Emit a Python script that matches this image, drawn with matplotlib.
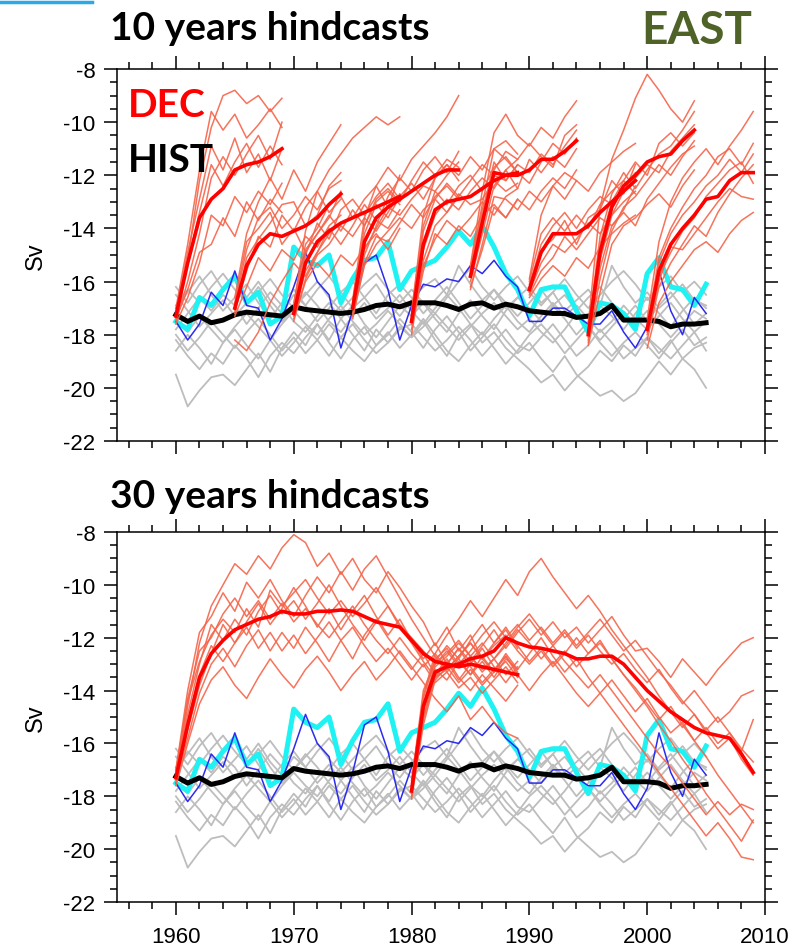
import numpy as np
import matplotlib
matplotlib.use("Agg")
import matplotlib.pyplot as plt
from matplotlib.ticker import MultipleLocator
from matplotlib.lines import Line2D

plt.rcParams["axes.unicode_minus"] = False
plt.rcParams["font.family"] = ["Liberation Sans", "DejaVu Sans"]

# ---------------- historical runs and observations (1960-2005) ----------------
hist_years = list(range(1960, 2006))

hist_mean = [-17.25, -17.5, -17.3, -17.55, -17.45, -17.25, -17.15, -17.2, -17.25, -17.3,
             -16.95, -17.05, -17.1, -17.15, -17.2, -17.15, -17.05, -16.9, -16.85, -16.95,
             -16.8, -16.8, -16.8, -16.9, -17.05, -16.85, -16.8, -17.0, -16.85, -16.95,
             -17.1, -17.15, -17.2, -17.2, -17.35, -17.3, -17.2, -16.9, -17.45, -17.45,
             -17.45, -17.5, -17.7, -17.6, -17.6, -17.55]

obs_cyan = [-17.5, -17.8, -16.6, -16.9, -16.3, -15.8, -16.8, -16.4, -17.6, -17.3,
            -14.7, -15.2, -15.4, -15.0, -16.8, -15.9, -15.2, -15.1, -14.5, -16.3,
            -15.6, -15.4, -15.2, -14.7, -14.1, -14.6, -13.9, -14.7, -15.7, -16.3,
            -17.3, -16.3, -16.2, -16.2, -17.1, -17.9, -16.8, -16.9, -17.2, -17.8,
            -15.7, -15.1, -16.2, -16.3, -16.9, -16.1]

obs_blue = [-17.5, -18.2, -17.6, -16.4, -16.9, -15.6, -16.9, -17.0, -18.2, -17.4,
            -16.2, -14.9, -16.0, -16.5, -18.5, -17.1, -15.3, -15.0, -16.3, -18.2,
            -16.9, -16.1, -16.2, -15.9, -16.0, -15.4, -15.7, -15.2, -15.8, -16.2,
            -17.5, -17.5, -17.0, -17.0, -17.3, -17.6, -17.6, -17.1, -17.9, -18.5,
            -17.7, -15.6, -17.1, -18.0, -16.6, -17.2]

hist_m1 = [-19.5, -20.7, -20.1, -19.6, -19.5, -19.9, -19.3, -18.7, -19.4, -18.5,
           -17.9, -18.4, -17.6, -18.2, -17.4, -18.0, -18.6, -17.8, -18.3, -17.7,
           -18.1, -17.5, -18.2, -18.8, -18.0, -17.6, -18.3, -17.9, -18.5, -18.9,
           -19.3, -19.8, -19.5, -20.1, -19.6, -19.2, -18.6, -19.0, -18.4, -18.8,
           -18.1, -18.7, -18.2, -18.9, -18.5, -18.3]
hist_m2 = [-18.2, -18.8, -19.3, -18.7, -19.1, -18.4, -18.9, -19.6, -18.8, -18.3,
           -18.7, -18.1, -17.6, -18.3, -18.9, -18.2, -17.7, -18.4, -18.0, -17.4,
           -17.9, -18.5, -17.8, -17.3, -17.9, -18.6, -18.1, -17.6, -18.2, -18.7,
           -18.3, -18.9, -19.4, -18.8, -19.5, -19.9, -20.3, -20.1, -20.5, -20.2,
           -19.6, -19.0, -19.5, -18.9, -19.3, -20.0]
hist_m3 = [-16.2, -16.8, -16.1, -15.6, -16.3, -15.9, -16.6, -16.0, -16.7, -17.2,
           -16.5, -16.9, -16.3, -15.8, -16.4, -17.0, -16.6, -16.1, -16.8, -17.3,
           -16.7, -16.2, -15.9, -16.5, -15.4, -16.1, -16.7, -16.3, -17.0, -16.6,
           -16.2, -16.8, -16.4, -17.1, -16.7, -16.3, -16.9, -15.4, -16.2, -16.8,
           -16.4, -17.0, -16.6, -16.1, -16.7, -16.9]
hist_m4 = [-17.8, -17.2, -16.6, -17.1, -16.5, -16.9, -17.6, -17.0, -16.4, -16.9,
           -17.5, -17.9, -17.3, -16.8, -17.4, -16.9, -17.6, -18.1, -17.5, -16.9,
           -17.3, -16.8, -17.4, -17.9, -17.2, -16.7, -17.3, -17.8, -17.1, -16.6,
           -17.0, -17.5, -16.9, -17.4, -18.0, -17.5, -16.9, -17.3, -17.8, -17.2,
           -16.6, -17.2, -17.7, -17.1, -16.6, -17.0]
hist_m5 = [-17.0, -16.4, -15.8, -16.5, -17.1, -16.6, -16.1, -16.8, -17.4, -16.8,
           -16.3, -16.9, -17.5, -17.0, -16.4, -16.0, -16.6, -17.2, -16.5, -16.1,
           -16.6, -17.2, -16.7, -16.2, -16.8, -17.4, -16.9, -16.3, -16.8, -17.3,
           -16.8, -16.3, -16.9, -16.5, -17.1, -16.6, -16.2, -16.8, -17.4, -16.9,
           -17.5, -16.9, -16.4, -17.0, -17.6, -17.2]
hist_m6 = [-18.6, -18.0, -18.5, -19.1, -18.3, -17.8, -18.4, -18.9, -18.2, -18.8,
           -18.3, -17.7, -18.2, -18.8, -18.1, -18.6, -19.0, -18.4, -17.9, -18.5,
           -18.0, -17.4, -18.0, -18.6, -19.0, -18.4, -17.9, -18.5, -19.1, -18.6,
           -18.0, -17.6, -18.1, -18.7, -18.2, -17.7, -18.3, -18.8, -18.3, -17.9,
           -18.4, -18.9, -18.3, -17.8, -18.4, -18.1]
hist_m7 = [-16.5, -17.1, -17.7, -17.2, -16.7, -17.3, -16.8, -16.2, -16.9, -17.5,
           -17.0, -16.4, -16.9, -17.5, -17.9, -17.3, -16.8, -17.4, -17.0, -16.5,
           -17.1, -17.6, -17.0, -16.5, -17.0, -17.6, -18.0, -17.4, -16.9, -17.5,
           -17.9, -17.3, -16.8, -17.3, -16.9, -17.4, -17.9, -17.5, -16.9, -17.4,
           -17.8, -17.3, -16.8, -17.4, -17.9, -17.5]
hist_m8 = [-18.0, -18.6, -18.1, -17.5, -18.0, -18.5, -17.9, -17.4, -18.0, -18.6,
           -18.1, -18.7, -18.2, -17.6, -18.1, -17.6, -18.2, -18.7, -18.3, -17.8,
           -17.6, -18.1, -18.6, -18.2, -17.7, -18.2, -18.8, -18.3, -17.8, -18.4,
           -18.6, -18.1, -17.6, -18.2, -18.8, -18.4, -17.8, -18.3, -18.9, -18.5,
           -18.1, -18.5, -18.9, -18.4, -17.9, -18.6]
hist_m9 = [-16.9, -16.3, -16.8, -16.2, -15.7, -16.3, -16.8, -16.4, -15.9, -16.5,
           -17.0, -16.5, -16.0, -16.6, -17.1, -16.6, -16.1, -15.7, -16.3, -16.8,
           -16.3, -16.8, -17.2, -16.6, -16.0, -15.5, -16.2, -16.7, -16.2, -15.8,
           -16.4, -16.9, -16.4, -15.9, -16.5, -17.0, -16.5, -16.0, -15.6, -16.1,
           -16.7, -16.2, -15.8, -16.4, -16.0, -16.5]
hist_m10 = [-17.5, -17.9, -17.3, -17.8, -18.3, -17.7, -17.2, -17.7, -18.2, -17.6,
            -17.1, -17.6, -18.0, -17.4, -16.9, -17.5, -18.0, -17.6, -17.1, -17.6,
            -18.1, -17.7, -17.2, -17.7, -18.2, -17.7, -17.2, -16.8, -17.3, -17.8,
            -17.4, -17.9, -18.3, -17.8, -17.2, -17.7, -18.2, -17.7, -17.2, -17.6,
            -17.1, -17.6, -18.1, -17.6, -17.1, -17.4]
hist_members = [hist_m1, hist_m2, hist_m3, hist_m4, hist_m5,
                hist_m6, hist_m7, hist_m8, hist_m9, hist_m10]

# ---------------- 10-year hindcasts (one start every 5 years) ----------------
dec10_starts = [1960, 1965, 1970, 1975, 1980, 1985, 1990, 1995, 2000]

dec10_1960_mean = [-17.3, -15.3, -13.6, -12.9, -12.5, -11.8, -11.6, -11.5, -11.3, -11.0]
dec10_1960_members = [
    [-17.3, -15.2, -12.2, -10.2, -9.0, -8.8, -9.3, -9.0, -9.6, -9.1],
    [-17.0, -14.6, -11.8, -9.6, -10.3, -9.7, -10.6, -10.1, -9.5, -10.2],
    [-17.5, -16.0, -14.2, -12.1, -11.3, -12.0, -11.2, -10.5, -11.4, -10.0],
    [-17.6, -16.6, -15.3, -13.5, -13.9, -12.8, -13.4, -12.6, -13.1, -12.3],
    [-17.2, -15.3, -13.4, -11.6, -12.4, -11.5, -10.8, -11.7, -10.9, -11.6],
    [-17.4, -16.3, -14.9, -14.6, -13.6, -14.3, -13.0, -13.7, -12.9, -13.4],
    [-17.1, -14.9, -12.9, -10.9, -11.8, -10.6, -11.9, -11.2, -12.2, -11.0],
]
dec10_1965_mean = [-17.0, -15.4, -14.6, -14.2, -14.3, -14.1, -13.9, -13.6, -13.1, -12.7]
dec10_1965_members = [
    [-16.6, -14.2, -13.0, -12.1, -12.9, -11.8, -12.6, -11.5, -10.8, -10.1],
    [-17.3, -16.2, -15.1, -15.6, -14.8, -15.2, -14.3, -14.7, -13.9, -13.5],
    [-18.2, -18.6, -17.9, -16.8, -16.0, -15.3, -15.8, -14.9, -14.2, -13.8],
    [-16.9, -14.8, -13.6, -13.2, -14.0, -13.5, -12.8, -13.3, -12.5, -12.2],
    [-17.1, -15.6, -14.3, -14.7, -13.5, -14.1, -13.2, -12.6, -13.4, -12.9],
    [-16.8, -14.5, -14.0, -13.4, -14.6, -14.0, -14.9, -14.2, -13.6, -12.6],
    [-17.2, -15.1, -14.4, -13.8, -13.1, -13.0, -13.9, -13.5, -12.4, -11.9],
]
dec10_1970_mean = [-17.2, -15.3, -14.5, -14.1, -13.8, -13.6, -13.4, -13.2, -13.0, -12.8]
dec10_1970_members = [
    [-16.9, -14.1, -12.6, -11.8, -11.2, -10.6, -10.2, -9.8, -10.1, -9.8],
    [-17.4, -16.0, -15.3, -15.8, -15.0, -15.4, -14.7, -14.2, -14.8, -14.0],
    [-17.0, -14.8, -14.2, -13.5, -14.1, -13.3, -13.9, -13.0, -12.6, -13.1],
    [-17.5, -15.9, -15.0, -14.6, -13.9, -14.3, -13.6, -14.1, -13.4, -12.7],
    [-17.1, -15.0, -13.8, -14.4, -13.3, -12.9, -13.5, -12.8, -12.3, -12.9],
    [-17.3, -15.6, -14.9, -14.0, -14.6, -13.9, -13.1, -13.7, -14.0, -13.3],
    [-16.8, -14.6, -14.0, -13.1, -12.8, -13.6, -12.9, -12.4, -13.2, -12.0],
]
dec10_1975_mean = [-17.0, -14.5, -13.6, -13.2, -12.9, -12.6, -12.3, -12.0, -11.8, -11.8]
dec10_1975_members = [
    [-16.7, -13.6, -12.4, -11.7, -12.2, -11.4, -10.9, -10.4, -9.8, -9.0],
    [-17.3, -15.4, -14.6, -14.1, -13.6, -14.0, -13.3, -12.9, -13.4, -12.8],
    [-17.0, -14.2, -13.1, -13.6, -12.8, -12.3, -12.9, -12.1, -11.6, -12.2],
    [-16.9, -14.8, -14.0, -13.2, -13.5, -12.9, -12.4, -12.6, -12.0, -11.5],
    [-17.2, -15.0, -13.9, -12.8, -12.1, -12.6, -11.8, -11.3, -11.9, -11.1],
    [-17.4, -15.3, -14.3, -14.5, -13.8, -13.1, -13.6, -12.8, -12.4, -12.9],
    [-16.8, -13.9, -12.9, -12.5, -13.0, -12.2, -11.5, -12.0, -11.4, -11.7],
]
dec10_1980_mean = [-17.5, -14.6, -13.3, -13.0, -12.9, -12.8, -12.5, -12.2, -12.0, -11.9]
dec10_1980_members = [
    [-17.2, -13.5, -12.1, -11.6, -12.0, -11.3, -11.8, -11.0, -10.7, -11.2],
    [-17.8, -15.6, -14.2, -14.6, -13.9, -14.3, -13.5, -13.1, -13.6, -12.9],
    [-17.4, -14.8, -13.5, -12.9, -13.3, -12.6, -12.1, -12.5, -11.8, -11.4],
    [-18.0, -15.2, -13.9, -13.4, -12.7, -13.1, -12.9, -12.2, -12.6, -12.3],
    [-17.1, -13.9, -12.6, -13.1, -12.4, -12.0, -12.6, -11.7, -11.3, -11.9],
    [-17.6, -15.4, -14.4, -13.7, -14.1, -13.6, -13.0, -13.5, -12.8, -12.5],
    [-17.3, -14.1, -12.9, -12.3, -12.8, -12.2, -11.6, -12.0, -12.2, -11.6],
]
dec10_1985_mean = [-15.8, -13.8, -11.9, -12.0, -12.0, -11.8, -11.4, -11.4, -11.1, -10.7]
dec10_1985_members = [
    [-15.4, -12.6, -10.4, -9.7, -10.5, -10.9, -10.2, -10.6, -9.8, -9.2],
    [-16.2, -14.8, -13.2, -13.6, -12.9, -13.3, -12.6, -12.1, -12.5, -11.8],
    [-15.7, -13.5, -11.5, -12.2, -11.6, -11.9, -11.2, -11.6, -10.9, -10.3],
    [-16.0, -14.2, -12.4, -11.8, -12.5, -11.4, -11.9, -11.3, -11.7, -11.0],
    [-15.5, -13.1, -11.0, -11.4, -11.9, -12.3, -11.5, -10.8, -11.2, -10.6],
    [-16.3, -14.6, -12.8, -12.9, -13.3, -12.6, -13.0, -12.4, -11.9, -12.2],
    [-15.6, -13.3, -11.8, -11.1, -11.4, -10.8, -11.3, -11.7, -10.5, -10.1],
]
dec10_1990_mean = [-16.3, -14.9, -14.2, -14.2, -14.2, -13.9, -13.4, -13.0, -12.6, -12.2]
dec10_1990_members = [
    [-15.9, -13.5, -12.4, -12.9, -12.2, -12.6, -11.9, -11.5, -11.1, -10.8],
    [-16.6, -15.9, -15.4, -15.8, -15.1, -15.5, -14.7, -14.2, -13.8, -13.5],
    [-16.2, -14.6, -13.9, -13.4, -14.0, -13.3, -12.8, -13.1, -12.4, -11.9],
    [-16.4, -15.3, -14.6, -14.9, -14.4, -13.8, -14.2, -13.5, -13.0, -12.6],
    [-16.0, -14.2, -13.6, -14.1, -13.5, -14.0, -13.1, -12.6, -12.2, -12.7],
    [-16.5, -15.6, -15.1, -14.3, -14.8, -14.2, -13.6, -13.9, -13.3, -12.4],
    [-16.1, -14.8, -14.4, -13.7, -14.6, -13.6, -13.3, -12.2, -12.7, -11.6],
]
dec10_1995_mean = [-18.0, -14.9, -13.2, -12.4, -12.0, -11.5, -11.3, -11.2, -10.7, -10.3]
dec10_1995_members = [
    [-17.6, -13.2, -11.4, -10.3, -9.1, -8.2, -8.8, -9.5, -10.0, -9.2],
    [-18.4, -16.4, -14.6, -13.9, -13.6, -13.1, -12.7, -13.2, -12.4, -11.8],
    [-18.1, -15.2, -13.5, -12.6, -12.1, -11.6, -11.9, -11.1, -10.6, -10.1],
    [-17.8, -14.3, -12.7, -11.9, -12.5, -11.8, -11.2, -10.9, -10.3, -9.6],
    [-18.3, -15.9, -14.1, -13.2, -12.8, -12.2, -11.6, -12.0, -11.3, -10.7],
    [-17.9, -14.6, -13.0, -12.2, -11.5, -12.0, -10.8, -10.4, -10.9, -10.4],
    [-18.2, -15.5, -13.9, -13.4, -13.9, -12.9, -12.3, -11.7, -11.2, -10.9],
]
dec10_2000_mean = [-17.8, -15.6, -14.6, -14.0, -13.5, -12.9, -12.8, -12.2, -11.9, -11.9]
dec10_2000_members = [
    [-17.4, -14.5, -13.0, -12.1, -11.5, -11.0, -11.6, -10.9, -10.3, -9.6],
    [-18.5, -16.8, -16.0, -15.4, -14.8, -14.5, -14.9, -14.2, -13.7, -13.4],
    [-17.9, -15.3, -14.2, -13.5, -13.0, -12.4, -12.0, -11.4, -11.9, -11.2],
    [-17.6, -15.8, -14.9, -14.1, -13.6, -12.8, -12.3, -11.8, -11.5, -12.3],
    [-18.2, -16.2, -15.3, -14.6, -13.9, -14.3, -13.4, -12.7, -12.1, -11.6],
    [-17.7, -15.1, -14.0, -13.2, -12.5, -12.0, -11.3, -11.0, -11.6, -10.8],
    [-18.0, -16.0, -14.7, -14.8, -14.2, -13.6, -13.0, -12.5, -12.8, -12.9],
]
dec10_means = [dec10_1960_mean, dec10_1965_mean, dec10_1970_mean, dec10_1975_mean,
               dec10_1980_mean, dec10_1985_mean, dec10_1990_mean, dec10_1995_mean,
               dec10_2000_mean]
dec10_members = [dec10_1960_members, dec10_1965_members, dec10_1970_members,
                 dec10_1975_members, dec10_1980_members, dec10_1985_members,
                 dec10_1990_members, dec10_1995_members, dec10_2000_members]

# ---------------- 30-year hindcasts ----------------
dec30_starts = [1960, 1980]

dec30_1960_mean = [-17.3, -15.3, -13.5, -12.6, -12.1, -11.7, -11.5, -11.3, -11.2, -11.0,
                   -11.1, -11.1, -11.0, -11.0, -10.95, -11.0, -11.2, -11.4, -11.5, -11.6,
                   -12.1, -12.6, -12.9, -13.0, -13.1, -13.0, -13.1, -13.2, -13.3, -13.4]
dec30_1960_members = [
    [-17.3, -14.6, -12.2, -10.8, -10.0, -9.2, -9.6, -8.9, -9.4, -8.6,
     -8.1, -8.4, -9.3, -8.8, -9.6, -9.0, -9.8, -10.3, -9.5, -10.1,
     -10.8, -11.4, -12.3, -11.6, -12.5, -11.9, -12.8, -12.2, -11.7, -12.4],
    [-17.0, -14.0, -11.8, -11.2, -10.3, -11.0, -9.9, -10.5, -9.8, -10.6,
     -11.2, -10.4, -9.7, -10.3, -9.5, -10.2, -9.4, -8.9, -9.7, -10.5,
     -11.3, -12.0, -12.7, -13.3, -12.8, -13.4, -12.9, -13.5, -12.8, -13.2],
    [-17.5, -15.5, -13.8, -12.6, -11.5, -12.2, -11.4, -10.7, -11.5, -10.9,
     -10.1, -10.8, -11.6, -10.9, -11.7, -11.0, -10.4, -11.2, -11.9, -11.3,
     -12.1, -12.8, -12.2, -13.0, -12.4, -13.1, -13.7, -13.2, -12.7, -13.3],
    [-17.4, -15.8, -14.1, -13.0, -12.4, -13.1, -12.3, -11.7, -12.5, -11.8,
     -12.4, -11.6, -12.2, -12.9, -12.1, -12.8, -11.9, -11.3, -12.0, -12.6,
     -13.2, -12.6, -13.4, -12.8, -13.5, -14.0, -13.4, -13.9, -14.4, -13.8],
    [-17.2, -14.9, -13.0, -11.5, -12.1, -11.3, -11.9, -11.0, -10.4, -11.1,
     -10.6, -11.3, -10.7, -10.0, -10.8, -11.5, -12.1, -11.4, -10.8, -11.6,
     -12.2, -12.9, -13.5, -12.9, -13.6, -13.0, -12.4, -13.1, -13.7, -13.1],
    [-17.6, -16.0, -14.5, -13.6, -13.1, -13.8, -14.3, -13.5, -12.8, -13.4,
     -13.9, -13.2, -12.7, -13.3, -14.0, -13.4, -12.9, -13.6, -13.1, -12.5,
     -13.1, -13.7, -14.3, -14.8, -14.2, -15.1, -14.6, -15.2, -15.6, -15.8],
    [-17.1, -14.3, -12.5, -12.0, -11.1, -10.5, -11.2, -10.6, -11.3, -10.7,
     -11.4, -10.9, -11.5, -12.0, -11.4, -10.8, -11.5, -12.1, -12.6, -12.0,
     -12.6, -13.1, -12.6, -13.2, -12.7, -12.2, -12.8, -13.3, -12.9, -13.5],
    [-17.3, -15.2, -13.4, -12.3, -12.9, -12.2, -11.6, -12.4, -11.8, -12.5,
     -11.9, -12.6, -12.0, -11.4, -12.1, -11.6, -12.3, -12.9, -12.4, -13.0,
     -13.6, -13.0, -13.7, -13.3, -13.9, -13.5, -14.1, -13.6, -13.1, -13.7],
    [-17.0, -14.4, -12.9, -11.9, -11.3, -11.8, -10.9, -11.6, -10.2, -10.8,
     -10.3, -9.8, -10.5, -11.1, -10.6, -11.2, -10.7, -10.1, -10.8, -11.5,
     -12.0, -12.5, -13.0, -12.5, -13.1, -12.7, -13.2, -12.8, -13.4, -12.9],
]

dec30_1980_mean = [-17.8, -14.6, -13.3, -13.1, -13.0, -12.8, -12.7, -12.5, -12.0, -12.2,
                   -12.35, -12.4, -12.5, -12.6, -12.8, -12.8, -12.7, -12.7, -13.0, -13.5,
                   -14.0, -14.4, -14.8, -15.1, -15.4, -15.6, -15.7, -15.8, -16.4, -17.1]
dec30_1980_members = [
    [-17.6, -14.2, -12.6, -11.9, -11.3, -10.6, -11.2, -10.5, -9.8, -10.4,
     -9.5, -9.0, -9.7, -10.3, -10.9, -10.4, -11.0, -11.7, -12.3, -12.9,
     -13.5, -14.2, -14.8, -15.4, -14.9, -15.6, -16.2, -15.8, -16.6, -17.2],
    [-18.0, -15.0, -13.4, -13.0, -12.4, -12.9, -12.3, -11.7, -12.4, -11.8,
     -11.3, -11.9, -11.4, -12.0, -11.6, -12.2, -11.7, -11.2, -11.9, -12.5,
     -12.4, -12.9, -13.5, -12.8, -13.3, -13.8, -13.2, -12.7, -12.2, -12.0],
    [-17.8, -14.8, -13.2, -13.6, -12.9, -13.4, -12.7, -13.3, -12.6, -13.2,
     -12.6, -12.0, -12.7, -13.3, -12.8, -13.5, -14.1, -13.6, -14.2, -14.8,
     -14.3, -15.0, -15.6, -15.2, -15.9, -16.5, -17.2, -17.8, -18.4, -19.0],
    [-17.5, -14.0, -12.9, -12.3, -12.8, -12.1, -11.5, -12.2, -11.6, -12.3,
     -12.9, -12.4, -13.0, -12.5, -13.1, -12.6, -12.1, -12.8, -13.4, -13.9,
     -14.5, -15.1, -14.6, -15.3, -15.9, -15.4, -16.0, -15.6, -16.3, -15.1],
    [-18.1, -15.3, -13.6, -13.1, -13.7, -13.2, -13.8, -13.3, -12.7, -13.4,
     -14.0, -13.4, -12.9, -13.5, -14.1, -14.6, -14.1, -14.7, -15.3, -15.9,
     -16.5, -17.1, -17.7, -18.3, -18.9, -19.5, -19.0, -19.6, -20.3, -20.4],
    [-17.7, -14.5, -13.0, -12.6, -12.1, -12.7, -12.2, -12.8, -12.3, -11.7,
     -12.2, -12.8, -12.3, -11.8, -12.4, -11.9, -12.5, -13.0, -12.6, -13.2,
     -13.7, -13.2, -13.9, -14.5, -14.0, -14.6, -15.2, -14.8, -14.2, -14.0],
    [-17.9, -15.1, -13.5, -13.2, -12.7, -12.2, -12.8, -12.3, -11.9, -12.5,
     -13.0, -12.5, -13.1, -12.6, -12.0, -12.6, -12.2, -12.8, -13.4, -14.0,
     -14.6, -15.3, -15.9, -16.6, -17.2, -17.9, -18.5, -19.1, -19.7, -18.9],
    [-17.4, -14.3, -12.8, -12.4, -13.0, -12.5, -11.9, -11.4, -12.0, -11.5,
     -12.1, -11.6, -12.2, -11.7, -12.3, -11.8, -11.3, -11.9, -12.5, -12.1,
     -12.7, -13.3, -13.8, -14.4, -14.9, -15.5, -15.0, -15.6, -16.2, -16.7],
    [-17.6, -14.6, -13.1, -12.7, -12.2, -12.7, -13.3, -12.8, -12.2, -11.6,
     -11.1, -11.7, -12.3, -12.9, -13.4, -13.9, -13.4, -14.0, -14.6, -15.2,
     -15.8, -16.4, -16.9, -17.5, -18.1, -18.7, -18.2, -18.7, -18.3, -18.5],
]
dec30_means = [dec30_1960_mean, dec30_1980_mean]
dec30_members = [dec30_1960_members, dec30_1980_members]

# ---------------- styling ----------------
C_MEMBER = "#f5644a"
C_MEAN = "#ff0000"
C_HIST = "#bdbdbd"
C_CYAN = "#1ff2f2"
C_BLUE = "#2b2bf0"

W, H = 794, 953
fig = plt.figure(figsize=(W / 100, H / 100), dpi=100)


def px_axes(left, top, right, bottom):
    return fig.add_axes([left / W, 1 - bottom / H, (right - left) / W, (bottom - top) / H])


def draw_common(ax):
    for m in hist_members:
        ax.plot(hist_years, m, color=C_HIST, lw=1.3, zorder=2, solid_joinstyle="round")
    ax.plot(hist_years, obs_cyan, color=C_CYAN, lw=3.6, zorder=3, solid_joinstyle="round")
    ax.plot(hist_years, obs_blue, color=C_BLUE, lw=1.1, zorder=4)
    ax.plot(hist_years, hist_mean, color="black", lw=3.6, zorder=5, solid_joinstyle="round")


def draw_hindcasts(ax, starts, means, members):
    for s, mean, mems in zip(starts, means, members):
        yrs = list(range(s, s + len(mean)))
        for m in mems:
            ax.plot(yrs, m, color=C_MEMBER, lw=1.1, alpha=0.9, zorder=6)
        ax.plot(yrs, mean, color=C_MEAN, lw=2.6, zorder=7, solid_joinstyle="round")


def style_axes(ax, xlabels):
    ax.set_xlim(1955, 2010)
    ax.set_ylim(-22, -8)
    ax.xaxis.set_major_locator(MultipleLocator(10))
    ax.xaxis.set_minor_locator(MultipleLocator(2))
    ax.yaxis.set_major_locator(MultipleLocator(2))
    ax.yaxis.set_minor_locator(MultipleLocator(0.5))
    ax.tick_params(which="both", direction="out", top=True, right=True,
                   labeltop=False, labelright=False, width=1.1, color="black")
    ax.tick_params(which="major", length=9.5, labelsize=16, pad=6)
    ax.tick_params(which="minor", length=5)
    ax.tick_params(axis="x", labelbottom=xlabels, pad=8)
    for sp in ax.spines.values():
        sp.set_linewidth(1.1)


ax1 = px_axes(117, 70, 765, 442)
draw_common(ax1)
draw_hindcasts(ax1, dec10_starts, dec10_means, dec10_members)
style_axes(ax1, False)

ax2 = px_axes(117, 533, 765, 903)
draw_common(ax2)
draw_hindcasts(ax2, dec30_starts, dec30_means, dec30_members)
style_axes(ax2, True)

# axis titles
for yc in (256, 718):
    fig.text(36 / W, 1 - yc / H, "Sv", rotation=90, ha="center", va="center", fontsize=17)

bold = dict(family=["Lato", "DejaVu Sans"], fontweight="bold")
fig.text(110 / W, 1 - 40 / H, "10 years hindcasts", ha="left", va="baseline",
         fontsize=28, color="black", **bold)
fig.text(110 / W, 1 - 508 / H, "30 years hindcasts", ha="left", va="baseline",
         fontsize=28, color="black", **bold)
fig.text(752 / W, 1 - 44 / H, "EAST", ha="right", va="baseline",
         fontsize=33, color="#4f6228", **bold)
fig.text(128 / W, 1 - 117 / H, "DEC", ha="left", va="baseline",
         fontsize=28, color="#ff0000", **bold)
fig.text(128 / W, 1 - 172 / H, "HIST", ha="left", va="baseline",
         fontsize=28, color="black", **bold)

# thin blue rule at the top-left corner
fig.add_artist(Line2D([0, 92 / W], [1 - 3 / H, 1 - 3 / H], color="#2aa8e8", lw=2.5))

fig.savefig("out.png", dpi=100)
